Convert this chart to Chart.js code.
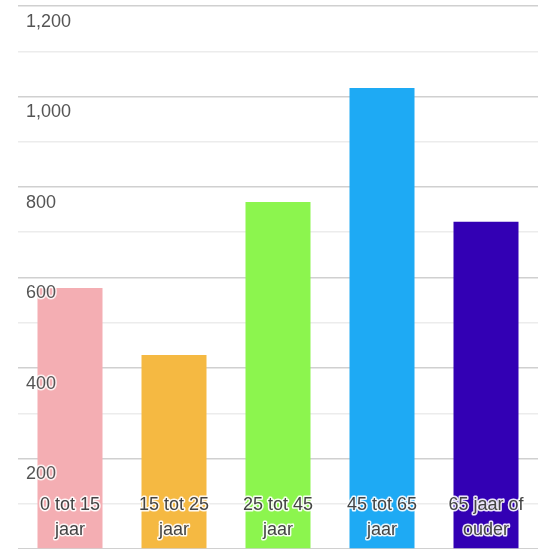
<!DOCTYPE html>
<html>
<head>
<meta charset="utf-8">
<script src="https://cdn.jsdelivr.net/npm/chart.js@4/dist/chart.umd.min.js"></script>
<style>
  html, body { margin: 0; padding: 0; background: #fff; }
  #wrap { width: 541px; height: 549px; }
</style>
</head>
<body>
<div id="wrap"><canvas id="ageChart"></canvas></div>
<script>
// age groups (each label is split over two lines)
const categories = [
  ["0 tot 15", "jaar"],
  ["15 tot 25", "jaar"],
  ["25 tot 45", "jaar"],
  ["45 tot 65", "jaar"],
  ["65 jaar of", "ouder"]
];
const inhabitants = [577, 429, 767, 1019, 723];
const barColors = ["#f4aeb3", "#f5b942", "#8cf54e", "#1eaaf4", "#3300b4"];
const yTicks = [200, 400, 600, 800, 1000, 1200];

const FONT = "'Liberation Sans', Arial, sans-serif";

// y labels sit inside the plot just under their grid line,
// category names are drawn inside the bars with a white halo
const insideLabels = {
  id: "insideLabels",
  afterDatasetsDraw(chart) {
    const ctx = chart.ctx;
    const x = chart.scales.x;
    const y = chart.scales.y;
    ctx.save();
    ctx.font = "18px " + FONT;
    ctx.textBaseline = "middle";
    ctx.lineJoin = "round";

    ctx.textAlign = "left";
    yTicks.forEach((v) => {
      const ty = y.getPixelForValue(v) + 16;
      ctx.strokeStyle = "rgba(255,255,255,0.8)";
      ctx.lineWidth = 3;
      ctx.strokeText(v.toLocaleString("en-US"), 26, ty);
      ctx.fillStyle = "#555";
      ctx.fillText(v.toLocaleString("en-US"), 26, ty);
    });

    ctx.textAlign = "center";
    categories.forEach((lines, i) => {
      const cx = x.getPixelForValue(i);
      lines.forEach((txt, j) => {
        const cy = 505 + j * 25;
        ctx.strokeStyle = "rgba(255,255,255,0.9)";
        ctx.lineWidth = 3;
        ctx.strokeText(txt, cx, cy);
        ctx.fillStyle = "#444";
        ctx.fillText(txt, cx, cy);
      });
    });
    ctx.restore();
  }
};

const ctx = document.getElementById("ageChart").getContext("2d");
new Chart(ctx, {
  type: "bar",
  data: {
    labels: categories,
    datasets: [{
      data: inhabitants,
      backgroundColor: barColors,
      borderWidth: 0,
      barPercentage: 0.625,
      categoryPercentage: 1
    }]
  },
  options: {
    responsive: true,
    maintainAspectRatio: false,
    animation: false,
    layout: { padding: { left: 18, right: 3, top: 6, bottom: 0 } },
    plugins: {
      legend: { display: false },
      tooltip: { enabled: false }
    },
    scales: {
      x: { display: false },
      y: {
        min: 0,
        max: 1200,
        border: { display: false },
        grid: {
          drawTicks: false,
          color: (c) => (c.tick && c.tick.value % 200 === 0 ? "#d0d0d0" : "#ececec"),
          lineWidth: 1.5
        },
        ticks: { stepSize: 100, display: false }
      }
    }
  },
  plugins: [insideLabels]
});
</script>
</body>
</html>
